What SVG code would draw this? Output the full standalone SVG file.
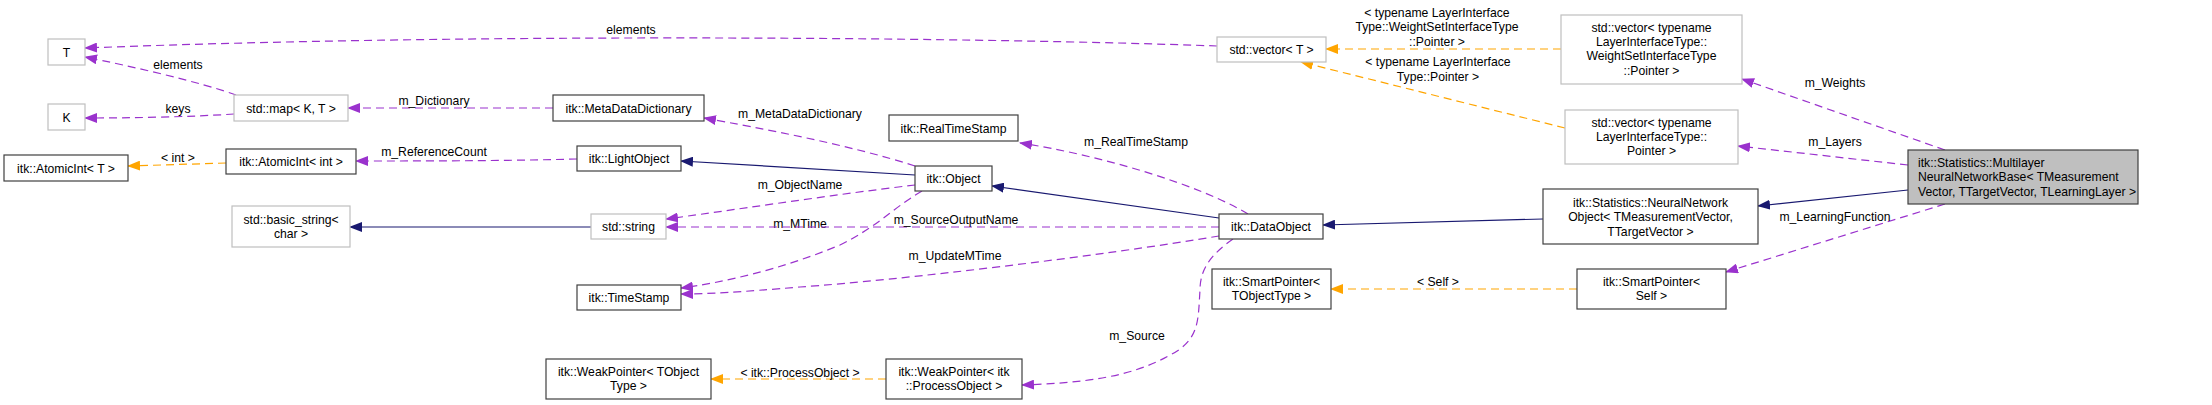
<svg xmlns="http://www.w3.org/2000/svg" width="2212" height="405" viewBox="0 0 2212 405">
<style>
text{font-family:"Liberation Sans",Arial,sans-serif;font-size:12.2px;fill:#000;text-anchor:middle}
.lt{text-anchor:start}
.g{fill:#fff;stroke:#bfbfbf;stroke-width:1.2}
.b{fill:#fff;stroke:#404040;stroke-width:1.2}
.m{fill:#bfbfbf;stroke:#404040;stroke-width:1.2}
.p{fill:none;stroke:#9a32cd;stroke-width:1.2;stroke-dasharray:8,5;marker-end:url(#ap)}
.o{fill:none;stroke:#ffa500;stroke-width:1.2;stroke-dasharray:8,5;marker-end:url(#ao)}
.n{fill:none;stroke:#191970;stroke-width:1.2;marker-end:url(#an)}
</style>
<defs>
<marker id="ap" viewBox="0 0 13 10" refX="12" refY="5" markerWidth="13" markerHeight="10" markerUnits="userSpaceOnUse" orient="auto"><path d="M0,0 L13,5 L0,10 z" fill="#9a32cd"/></marker>
<marker id="ao" viewBox="0 0 13 10" refX="12" refY="5" markerWidth="13" markerHeight="10" markerUnits="userSpaceOnUse" orient="auto"><path d="M0,0 L13,5 L0,10 z" fill="#ffa500"/></marker>
<marker id="an" viewBox="0 0 13 10" refX="12" refY="5" markerWidth="13" markerHeight="10" markerUnits="userSpaceOnUse" orient="auto"><path d="M0,0 L13,5 L0,10 z" fill="#191970"/></marker>
</defs>
<rect width="2212" height="405" fill="#fff"/>
<g id="connectors">
<path class="p" d="M1217,46 C1000,38 500,32 85,48"/>
<text x="631" y="33.5">elements</text>
<path class="p" d="M236,95 C200,82 130,66 85,57"/>
<text x="178" y="68.5">elements</text>
<path class="p" d="M234,114 C190,117 130,118 85,118"/>
<text x="178" y="112.5">keys</text>
<path class="o" d="M226,163 L128,166"/>
<text x="178" y="161.5">&lt; int &gt;</text>
<path class="p" d="M553,108 L348,108"/>
<text x="434" y="104.5">m_Dictionary</text>
<path class="p" d="M577,159 C500,161 420,161 356,161"/>
<text x="434" y="155.5">m_ReferenceCount</text>
<path class="n" d="M591,227 L350,227"/>
<path class="n" d="M915,175 L681,161"/>
<path class="p" d="M915,166 C850,145 760,128 704,118"/>
<text x="800" y="117.5">m_MetaDataDictionary</text>
<path class="p" d="M915,185 C830,195 720,212 666,219"/>
<text x="800" y="188.5">m_ObjectName</text>
<path class="p" d="M922,191 C890,210 880,225 840,245 C780,270 720,283 681,288"/>
<text x="800" y="227.5">m_MTime</text>
<path class="p" d="M1219,227 L666,227"/>
<text x="956" y="223.5">m_SourceOutputName</text>
<path class="p" d="M1219,236 C1100,256 900,280 800,287 C740,292 710,294 681,294"/>
<text x="955" y="259.5">m_UpdateMTime</text>
<path class="o" d="M886,379 L711,379"/>
<text x="800" y="376.5">&lt; itk::ProcessObject &gt;</text>
<path class="n" d="M1219,218 L992,186"/>
<path class="p" d="M1248,214 C1200,185 1100,155 1020,143"/>
<text x="1136" y="145.5">m_RealTimeStamp</text>
<path class="p" d="M1233,239 C1210,255 1200,270 1200,290 C1198,320 1200,340 1170,355 C1130,378 1080,383 1022,385"/>
<text x="1137" y="339.5">m_Source</text>
<path class="o" d="M1561,49 L1326,49"/>
<text x="1437" y="16.5">&lt; typename LayerInterface</text>
<text x="1437" y="30.5">Type::WeightSetInterfaceType</text>
<text x="1437" y="45.5">::Pointer &gt;</text>
<path class="o" d="M1565,128 L1301,62"/>
<text x="1438" y="65.5">&lt; typename LayerInterface</text>
<text x="1438" y="80.5">Type::Pointer &gt;</text>
<path class="n" d="M1543,219 L1323,225"/>
<path class="o" d="M1577,289 L1331,289"/>
<text x="1438" y="285.5">&lt; Self &gt;</text>
<path class="p" d="M1945,150 L1742,79"/>
<text x="1835" y="86.5">m_Weights</text>
<path class="p" d="M1908,165 L1738,146"/>
<text x="1835" y="145.5">m_Layers</text>
<path class="n" d="M1908,190 L1758,206"/>
<path class="p" d="M1945,204 L1726,272"/>
<text x="1835" y="220.5">m_LearningFunction</text>
</g>
<g id="n_T"><rect class="g" x="48" y="39" width="37" height="26"/><text x="66.5" y="56.5">T</text></g>
<g id="n_K"><rect class="g" x="48" y="104" width="37" height="26"/><text x="66.5" y="121.5">K</text></g>
<g id="n_AtomicIntT"><rect class="b" x="4" y="155" width="124" height="26"/><text x="66" y="172.5">itk::AtomicInt&lt; T &gt;</text></g>
<g id="n_map"><rect class="g" x="234" y="95" width="114" height="26"/><text x="291" y="112.5">std::map&lt; K, T &gt;</text></g>
<g id="n_AtomicIntInt"><rect class="b" x="226" y="149" width="130" height="25"/><text x="291" y="166">itk::AtomicInt&lt; int &gt;</text></g>
<g id="n_basic_string"><rect class="g" x="232" y="206" width="118" height="41"/><text x="291" y="223.5">std::basic_string&lt;</text><text x="291" y="237.5">char &gt;</text></g>
<g id="n_MetaDataDictionary"><rect class="b" x="553" y="95" width="151" height="26"/><text x="628.5" y="112.5">itk::MetaDataDictionary</text></g>
<g id="n_LightObject"><rect class="b" x="577" y="146" width="104" height="25"/><text x="629" y="163">itk::LightObject</text></g>
<g id="n_string"><rect class="g" x="591" y="214" width="75" height="25"/><text x="628.5" y="231">std::string</text></g>
<g id="n_TimeStamp"><rect class="b" x="577" y="285" width="104" height="25"/><text x="629" y="302">itk::TimeStamp</text></g>
<g id="n_WeakPointerT"><rect class="b" x="546" y="359" width="165" height="40"/><text x="628.5" y="375.5">itk::WeakPointer&lt; TObject</text><text x="628.5" y="389.5">Type &gt;</text></g>
<g id="n_RealTimeStamp"><rect class="b" x="889" y="115" width="129" height="26"/><text x="953.5" y="132.5">itk::RealTimeStamp</text></g>
<g id="n_Object"><rect class="b" x="915" y="166" width="77" height="25"/><text x="953.5" y="183">itk::Object</text></g>
<g id="n_WeakPointerPO"><rect class="b" x="886" y="359" width="136" height="40"/><text x="954" y="375.5">itk::WeakPointer&lt; itk</text><text x="954" y="389.5">::ProcessObject &gt;</text></g>
<g id="n_DataObject"><rect class="b" x="1219" y="214" width="104" height="25"/><text x="1271" y="231">itk::DataObject</text></g>
<g id="n_SmartPointerT"><rect class="b" x="1212" y="269" width="119" height="40"/><text x="1271.5" y="285.5">itk::SmartPointer&lt;</text><text x="1271.5" y="300">TObjectType &gt;</text></g>
<g id="n_vectorT"><rect class="g" x="1217" y="37" width="109" height="25"/><text x="1271.5" y="54">std::vector&lt; T &gt;</text></g>
<g id="n_vectorWeights"><rect class="g" x="1561" y="15" width="181" height="69"/><text x="1651.5" y="31.5">std::vector&lt; typename</text><text x="1651.5" y="45.5">LayerInterfaceType::</text><text x="1651.5" y="60">WeightSetInterfaceType</text><text x="1651.5" y="74.5">::Pointer &gt;</text></g>
<g id="n_vectorLayers"><rect class="g" x="1565" y="110" width="173" height="54"/><text x="1651.5" y="126.5">std::vector&lt; typename</text><text x="1651.5" y="140.5">LayerInterfaceType::</text><text x="1651.5" y="155">Pointer &gt;</text></g>
<g id="n_NNObject"><rect class="b" x="1543" y="189" width="215" height="55"/><text x="1650.5" y="206.5">itk::Statistics::NeuralNetwork</text><text x="1650.5" y="221">Object&lt; TMeasurementVector,</text><text x="1650.5" y="235.5">TTargetVector &gt;</text></g>
<g id="n_SmartPointerSelf"><rect class="b" x="1577" y="269" width="149" height="40"/><text x="1651.5" y="285.5">itk::SmartPointer&lt;</text><text x="1651.5" y="300">Self &gt;</text></g>
<g id="n_Main"><rect class="m" x="1908" y="150" width="230" height="54"/><text class="lt" x="1918" y="166.5">itk::Statistics::Multilayer</text><text class="lt" x="1918" y="181">NeuralNetworkBase&lt; TMeasurement</text><text class="lt" x="1918" y="195.5">Vector, TTargetVector, TLearningLayer &gt;</text></g>
</svg>
